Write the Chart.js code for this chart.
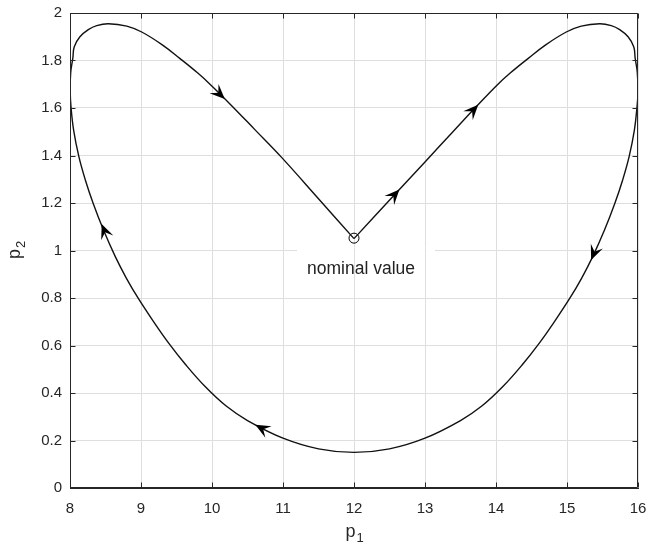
<!DOCTYPE html>
<html lang="en">
<head>
    <meta charset="UTF-8">
    <title>p1 / p2 trajectory</title>
    <script src="https://cdn.jsdelivr.net/npm/chart.js"></script>
    <style>
        html, body { margin: 0; padding: 0; background: #fff; }
        #wrap { width: 648px; height: 551px; }
    </style>
</head>
<body>
    <div id="wrap"><canvas id="trajChart" width="648" height="551"></canvas></div>

    <script>
        // path followed from the nominal value
        const pathX = [12, 12.6, 13.0, 13.4, 13.73, 14.01, 14.2, 14.45, 14.7, 14.99, 15.2, 15.46, 15.624, 15.742, 15.86, 15.94, 15.96, 15.99, 16.0,
                       15.986, 15.949, 15.875, 15.783, 15.673, 15.528, 15.362, 15.207, 15.04, 14.84, 14.61, 14.37, 14.09, 13.8, 13.5, 13.0, 12.5, 12.0,
                       11.5, 11.0, 10.5, 10.2, 9.91, 9.63, 9.39, 9.16, 8.96, 8.793, 8.638, 8.472, 8.327, 8.217, 8.125, 8.051, 8.014, 8.003,
                       8.01, 8.04, 8.06, 8.14, 8.258, 8.376, 8.54, 8.8, 9.01, 9.3, 9.55, 9.8, 9.99, 10.27, 10.6, 10.98, 11.5, 12];
        const pathY = [1.05, 1.244, 1.373, 1.502, 1.608, 1.695, 1.747, 1.808, 1.866, 1.92, 1.945, 1.955, 1.947, 1.93, 1.90, 1.858, 1.81, 1.75, 1.67,
                       1.605, 1.507, 1.395, 1.296, 1.198, 1.086, 0.974, 0.884, 0.799, 0.708, 0.61, 0.519, 0.425, 0.345, 0.284, 0.21, 0.165, 0.15,
                       0.165, 0.21, 0.284, 0.345, 0.425, 0.519, 0.61, 0.708, 0.799, 0.884, 0.974, 1.086, 1.198, 1.296, 1.395, 1.507, 1.605, 1.67,
                       1.75, 1.81, 1.858, 1.90, 1.93, 1.947, 1.955, 1.945, 1.92, 1.866, 1.808, 1.747, 1.695, 1.612, 1.51, 1.392, 1.218, 1.05];

        // arrow heads: tip and a point a little behind it on the path
        const arrowTipX  = [12.64, 13.75, 15.34, 10.61, 8.446, 10.18];
        const arrowTipY  = [1.257, 1.614, 0.96, 0.266, 1.112, 1.638];
        const arrowFromX = [12.44, 13.55, 15.45, 10.80, 8.52, 10.0];
        const arrowFromY = [1.192, 1.55, 1.04, 0.235, 1.057, 1.69];

        const nominalX = [12];
        const nominalY = [1.052];
        const nominalLabel = 'nominal value';

        const xTicks = [8, 9, 10, 11, 12, 13, 14, 15, 16];
        const yTicks = [0, 0.2, 0.4, 0.6, 0.8, 1, 1.2, 1.4, 1.6, 1.8, 2];

        const axisColor = '#262626';
        const gridColor = '#dedede';
        const fontFamily = '"Liberation Sans", Arial, sans-serif';

        const pathData = pathX.map((x, i) => ({ x: x, y: pathY[i] }));
        const nominalData = nominalX.map((x, i) => ({ x: x, y: nominalY[i] }));

        // white box behind the label (grid shows through vertically in the original)
        const labelBox = {
            id: 'labelBox',
            beforeDatasetsDraw(chart) {
                const ctx = chart.ctx, xs = chart.scales.x, ys = chart.scales.y;
                const cx = xs.getPixelForValue(nominalX[0]);
                const gy = ys.getPixelForValue(1);
                ctx.save();
                ctx.fillStyle = '#fff';
                ctx.fillRect(cx - 57, gy - 3, 138, 6);
                ctx.strokeStyle = gridColor;
                ctx.lineWidth = 1;
                [12, 13].forEach(v => {
                    const px = Math.round(xs.getPixelForValue(v)) + 0.5;
                    ctx.beginPath();
                    ctx.moveTo(px, gy - 3);
                    ctx.lineTo(px, gy + 3);
                    ctx.stroke();
                });
                ctx.restore();
            }
        };

        function subText(ctx, main, sub, x, y) {
            // draws "main" with a lowered "sub", centred on x
            ctx.font = '18px ' + fontFamily;
            const w1 = ctx.measureText(main).width;
            ctx.font = '13px ' + fontFamily;
            const w2 = ctx.measureText(sub).width;
            const start = x - (w1 + w2) / 2;
            ctx.textAlign = 'left';
            ctx.textBaseline = 'alphabetic';
            ctx.font = '18px ' + fontFamily;
            ctx.fillText(main, start, y);
            ctx.font = '13px ' + fontFamily;
            ctx.fillText(sub, start + w1 + 1, y + 5);
        }

        const extras = {
            id: 'extras',
            afterDatasetsDraw(chart) {
                const ctx = chart.ctx, xs = chart.scales.x, ys = chart.scales.y;
                const a = chart.chartArea;
                ctx.save();

                // arrow heads
                ctx.fillStyle = '#000';
                arrowTipX.forEach((tx, i) => {
                    const px = xs.getPixelForValue(tx), py = ys.getPixelForValue(arrowTipY[i]);
                    const fx = xs.getPixelForValue(arrowFromX[i]), fy = ys.getPixelForValue(arrowFromY[i]);
                    const ang = Math.atan2(py - fy, px - fx);
                    const L = 15, W = 6.5, N = 9;
                    const cos = Math.cos(ang), sin = Math.sin(ang);
                    const bx = px - L * cos, by = py - L * sin;
                    ctx.beginPath();
                    ctx.moveTo(px, py);
                    ctx.lineTo(bx - W * sin, by + W * cos);
                    ctx.lineTo(px - N * cos, py - N * sin);
                    ctx.lineTo(bx + W * sin, by - W * cos);
                    ctx.closePath();
                    ctx.fill();
                });

                // label under the nominal point
                ctx.fillStyle = '#222';
                ctx.font = '17.5px ' + fontFamily;
                ctx.textAlign = 'center';
                ctx.textBaseline = 'middle';
                ctx.fillText(nominalLabel, xs.getPixelForValue(nominalX[0]) + 7, ys.getPixelForValue(0.922));

                // box: edges plus inward ticks
                ctx.strokeStyle = axisColor;
                ctx.lineWidth = 1;
                const L = Math.round(a.left) + 0.5, R = Math.round(a.right) - 0.5;
                const T = Math.round(a.top) + 0.5, B = Math.round(a.bottom) - 0.5;
                ctx.beginPath();
                ctx.moveTo(L, T); ctx.lineTo(R, T); ctx.lineTo(R, B);
                ctx.moveTo(L, T); ctx.lineTo(L, B); ctx.lineTo(R, B);
                xTicks.forEach(v => {
                    const p = Math.round(xs.getPixelForValue(v)) + 0.5;
                    ctx.moveTo(p, B); ctx.lineTo(p, B - 5);
                    ctx.moveTo(p, T); ctx.lineTo(p, T + 5);
                });
                yTicks.forEach(v => {
                    const p = Math.round(ys.getPixelForValue(v)) + 0.5;
                    ctx.moveTo(L, p); ctx.lineTo(L + 5, p);
                    ctx.moveTo(R, p); ctx.lineTo(R - 5, p);
                });
                ctx.stroke();

                // axis titles p1 and p2
                ctx.fillStyle = axisColor;
                subText(ctx, 'p', '1', (a.left + a.right) / 2, 537);
                ctx.save();
                ctx.translate(20, (a.top + a.bottom) / 2);
                ctx.rotate(-Math.PI / 2);
                subText(ctx, 'p', '2', 0, 0);
                ctx.restore();

                ctx.restore();
            }
        };

        const ctx = document.getElementById('trajChart').getContext('2d');
        new Chart(ctx, {
            type: 'scatter',
            data: {
                datasets: [{
                    data: pathData,
                    showLine: true,
                    borderColor: '#111',
                    borderWidth: 1.4,
                    tension: 0.4,
                    pointRadius: 0
                }, {
                    data: nominalData,
                    showLine: false,
                    pointStyle: 'circle',
                    pointRadius: 5,
                    borderColor: '#000',
                    borderWidth: 1,
                    backgroundColor: 'rgba(0,0,0,0)'
                }]
            },
            options: {
                responsive: false,
                animation: false,
                layout: { padding: { top: 13, right: 10, left: 0, bottom: 0 } },
                plugins: { legend: { display: false }, tooltip: { enabled: false } },
                scales: {
                    x: {
                        type: 'linear',
                        min: 8, max: 16,
                        afterBuildTicks: s => { s.ticks = xTicks.map(v => ({ value: v })); },
                        afterFit: s => { s.height = 63; s.paddingLeft = 0; s.paddingRight = 0; },
                        grid: { color: gridColor, drawTicks: false },
                        border: { color: axisColor },
                        ticks: {
                            color: axisColor, padding: 12,
                            font: { family: fontFamily, size: 15 },
                            callback: v => String(v)
                        }
                    },
                    y: {
                        type: 'linear',
                        min: 0, max: 2,
                        afterBuildTicks: s => { s.ticks = yTicks.map(v => ({ value: v })); },
                        afterFit: s => { s.width = 70; s.paddingTop = 0; s.paddingBottom = 0; },
                        grid: { color: gridColor, drawTicks: false },
                        border: { color: axisColor },
                        ticks: {
                            color: axisColor, padding: 8,
                            font: { family: fontFamily, size: 15 },
                            callback: v => String(Number(v.toFixed(1)))
                        }
                    }
                }
            },
            plugins: [labelBox, extras]
        });
    </script>
</body>
</html>
